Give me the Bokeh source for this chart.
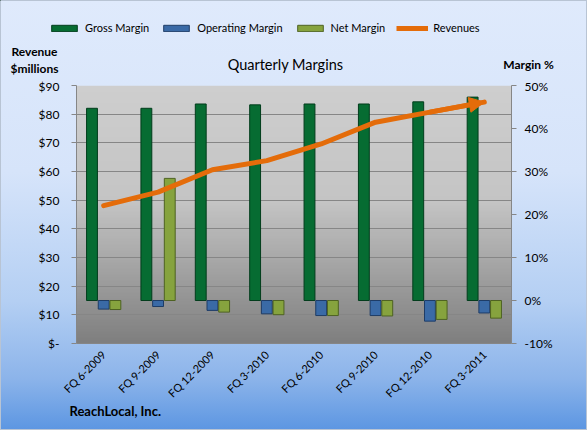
import math
from bokeh.plotting import figure
from bokeh.layouts import column
from bokeh.models import (Range1d, LinearAxis, FixedTicker, BoxAnnotation, Label,
                          Arrow, NormalHead, ColumnDataSource, Legend, LegendItem)
from bokeh.transform import dodge
from bokeh.embed import file_html
from bokeh.resources import INLINE

# ---------------- data ----------------
quarters = ["FQ 6-2009", "FQ 9-2009", "FQ 12-2009", "FQ 3-2010",
            "FQ 6-2010", "FQ 9-2010", "FQ 12-2010", "FQ 3-2011"]
gross_margin = [44.7, 44.7, 45.7, 45.5, 45.7, 45.7, 46.2, 47.3]      # %
operating_margin = [-2.0, -1.4, -2.3, -3.1, -3.5, -3.5, -4.8, -2.9]  # %
net_margin = [-2.1, 28.4, -2.7, -3.3, -3.5, -3.6, -4.4, -4.1]        # %
revenues = [48.1, 52.8, 60.6, 63.8, 69.6, 77.2, 80.7, 84.2]          # $ millions

rev_ticks = [0, 10, 20, 30, 40, 50, 60, 70, 80, 90]
rev_tick_labels = ["$-", "$10", "$20", "$30", "$40", "$50", "$60", "$70", "$80", "$90"]
margin_ticks = [-10, 0, 10, 20, 30, 40, 50]
margin_tick_labels = ["-10%", "0%", "10%", "20%", "30%", "40%", "50%"]

# ---------------- styling ----------------
FONT = "Lato"
W, H = 587, 430
HEAD = 78          # header height (legend + titles)
TOPPAD = 7         # space Bokeh keeps above the frame for the end tick labels
FRAME_H = 258
L, R, B = 76, 76, 64
MH = TOPPAD + FRAME_H + B
OVER = 10          # footer overlaps the bottom of the main plot
FOOT = H - HEAD - MH + OVER
GREEN, GREEN_E = "#066c32", "#023d1c"
BLUE, BLUE_E = "#3a6aa6", "#1e3c66"
OLIVE, OLIVE_E = "#86a33e", "#4e6222"
ORANGE = "#e46c0a"
GRID = "#868686"

idx = list(range(len(quarters)))
src = ColumnDataSource(dict(x=idx, gross=gross_margin, op=operating_margin,
                            net=net_margin, rev=revenues))

# ---------------- main plot ----------------
p = figure(width=W, height=MH, output_backend="svg", toolbar_location=None,
           x_range=Range1d(-0.5, len(quarters) - 0.5),
           y_range=Range1d(rev_ticks[0], rev_ticks[-1]),
           min_border_left=L, min_border_right=R, min_border_top=TOPPAD, min_border_bottom=B)
p.frame_align = False
p.title.visible = False
p.extra_y_ranges = {"margin": Range1d(margin_ticks[0], margin_ticks[-1])}
p.background_fill_color = None
p.border_fill_color = None
p.outline_line_color = None
p.xgrid.grid_line_color = None
p.ygrid.grid_line_color = GRID
p.ygrid.ticker = FixedTicker(ticks=rev_ticks)

fw = W - L - R
fh = FRAME_H

def lerp_stops(stops, t):
    for (t0, c0), (t1, c1) in zip(stops, stops[1:]):
        if t0 <= t <= t1:
            f = (t - t0) / (t1 - t0) if t1 > t0 else 0
            return tuple(int(round(a + (b - a) * f)) for a, b in zip(c0, c1))
    return stops[-1][1]

# plot-area gradient (decoration)
plot_stops = [(0.0, (206, 206, 206)), (0.45, (196, 196, 196)), (1.0, (126, 126, 126))]
nb2 = 86
for i in range(nb2):
    top_px = i * fh / nb2
    bot_px = (i + 1) * fh / nb2 + 1
    col = "#%02x%02x%02x" % lerp_stops(plot_stops, (i + 0.5) / nb2)
    p.add_layout(BoxAnnotation(left=0, right=fw, top=fh - top_px, bottom=max(fh - bot_px, 0),
                               left_units="screen", right_units="screen",
                               top_units="screen", bottom_units="screen",
                               fill_color=col, fill_alpha=1, line_alpha=0, level="image"))

# bars
bw = 0.2
p.vbar(x=dodge("x", -0.215, range=p.x_range), top="gross", bottom=0, width=bw, source=src,
       y_range_name="margin", fill_color=GREEN, line_color=GREEN_E, line_width=1)
p.vbar(x=dodge("x", 0.0, range=p.x_range), top="op", bottom=0, width=bw, source=src,
       y_range_name="margin", fill_color=BLUE, line_color=BLUE_E, line_width=1)
p.vbar(x=dodge("x", 0.215, range=p.x_range), top="net", bottom=0, width=bw, source=src,
       y_range_name="margin", fill_color=OLIVE, line_color=OLIVE_E, line_width=1)

# revenue line with arrow head
p.line("x", "rev", source=src, line_width=5, line_color=ORANGE, line_cap="round",
       line_join="round")
p.add_layout(Arrow(end=NormalHead(size=15, fill_color=ORANGE, line_color=ORANGE),
                   x_start=idx[-2], y_start=revenues[-2], x_end=idx[-1], y_end=revenues[-1],
                   line_color=ORANGE, line_width=5))

# axes
xa = p.xaxis[0]
xa.ticker = FixedTicker(ticks=idx)
xa.major_label_overrides = {i: q for i, q in zip(idx, quarters)}
xa.major_label_orientation = math.pi / 4
xa.axis_line_color = GRID
xa.major_tick_line_color = None
xa.major_tick_out = 0
xa.major_tick_in = 0
xa.minor_tick_line_color = None
xa.minor_tick_out = 0
xa.axis_label_standoff = 0
xa.major_label_text_font = FONT
xa.major_label_text_font_size = "11px"
xa.major_label_text_color = "#000000"
xa.major_label_standoff = 9

ya = p.yaxis[0]
ya.ticker = FixedTicker(ticks=rev_ticks)
ya.major_label_overrides = {t: s for t, s in zip(rev_ticks, rev_tick_labels)}
ya.axis_line_color = GRID
ya.major_tick_line_color = GRID
ya.major_tick_out = 5
ya.major_tick_in = 0
ya.minor_tick_line_color = None
ya.major_label_text_font = FONT
ya.major_label_text_font_size = "12px"
ya.major_label_text_color = "#000000"
ya.major_label_standoff = 12

ra = LinearAxis(y_range_name="margin", ticker=FixedTicker(ticks=margin_ticks))
ra.major_label_overrides = {t: s for t, s in zip(margin_ticks, margin_tick_labels)}
ra.axis_line_color = GRID
ra.major_tick_line_color = GRID
ra.major_tick_out = 5
ra.major_tick_in = 0
ra.minor_tick_line_color = None
ra.major_label_text_font = FONT
ra.major_label_text_font_size = "12px"
ra.major_label_text_color = "#000000"
ra.major_label_standoff = 8
p.add_layout(ra, "right")


def bare(height):
    f = figure(width=W, height=height, output_backend="svg", toolbar_location=None,
               x_range=Range1d(0, W), y_range=Range1d(height, 0),
               x_axis_type=None, y_axis_type=None,
               min_border_left=0, min_border_right=0, min_border_top=0, min_border_bottom=0)
    f.frame_align = False
    f.title.visible = False
    f.background_fill_color = None
    f.border_fill_color = None
    f.outline_line_color = None
    f.grid.visible = False
    return f

# ---------------- header (legend + titles) ----------------
h = bare(HEAD)
# legend swatches (proxy renderers placed off-canvas, shown only in the legend)
off = dict(x=[-1000], top=[-1000])
lg_g = h.vbar(x="x", top="top", width=1, source=ColumnDataSource(off), fill_color=GREEN, line_color=GREEN_E)
lg_o = h.vbar(x="x", top="top", width=1, source=ColumnDataSource(off), fill_color=BLUE, line_color=BLUE_E)
lg_n = h.vbar(x="x", top="top", width=1, source=ColumnDataSource(off), fill_color=OLIVE, line_color=OLIVE_E)
lg_r = h.line(x=[-1000, -999], y=[-1000, -1000], line_width=5, line_color=ORANGE)
legend = Legend(items=[LegendItem(label="Gross Margin", renderers=[lg_g]),
                       LegendItem(label="Operating Margin", renderers=[lg_o]),
                       LegendItem(label="Net Margin", renderers=[lg_n]),
                       LegendItem(label="Revenues", renderers=[lg_r])],
                orientation="horizontal", location=(48, HEAD - 34),
                background_fill_alpha=0, border_line_alpha=0,
                label_text_font=FONT, label_text_font_size="11px", label_text_color="#000000",
                glyph_width=32, glyph_height=8, label_standoff=5, spacing=11,
                padding=0, margin=0)
h.add_layout(legend, "center")


def lab(fig, text, x, y, size, bold=False, align="left"):
    fig.add_layout(Label(x=x, y=y, text=text,
                         text_font=FONT, text_font_size=size, text_align=align,
                         text_baseline="middle", text_color="#000000",
                         text_font_style="bold" if bold else "normal"))

lab(h, "Revenue", 34, 51, "12px", True, "center")
lab(h, "$millions", 34, 68, "12px", True, "center")
lab(h, "Quarterly Margins", 285, 64, "14.5px", False, "center")
lab(h, "Margin %", 528, 64, "12px", True, "center")

# ---------------- footer ----------------
ft = bare(FOOT)
ft.styles = {"margin-top": f"-{OVER}px"}
lab(ft, "ReachLocal, Inc.", 69, 410 - (HEAD + MH - OVER), "13px", True, "left")

layout = column(h, p, ft, width=W, height=H, spacing=0,
                styles={"background": "linear-gradient(to bottom, #dfeafc 0%, #d6e4fa 40%, "
                                      "#b4cff3 70%, #8cb4ea 88%, #5c96e2 100%)",
                        "box-shadow": "inset 0 0 0 1px #b8c4d4"})

open("out.html", "w").write(file_html(layout, INLINE))
